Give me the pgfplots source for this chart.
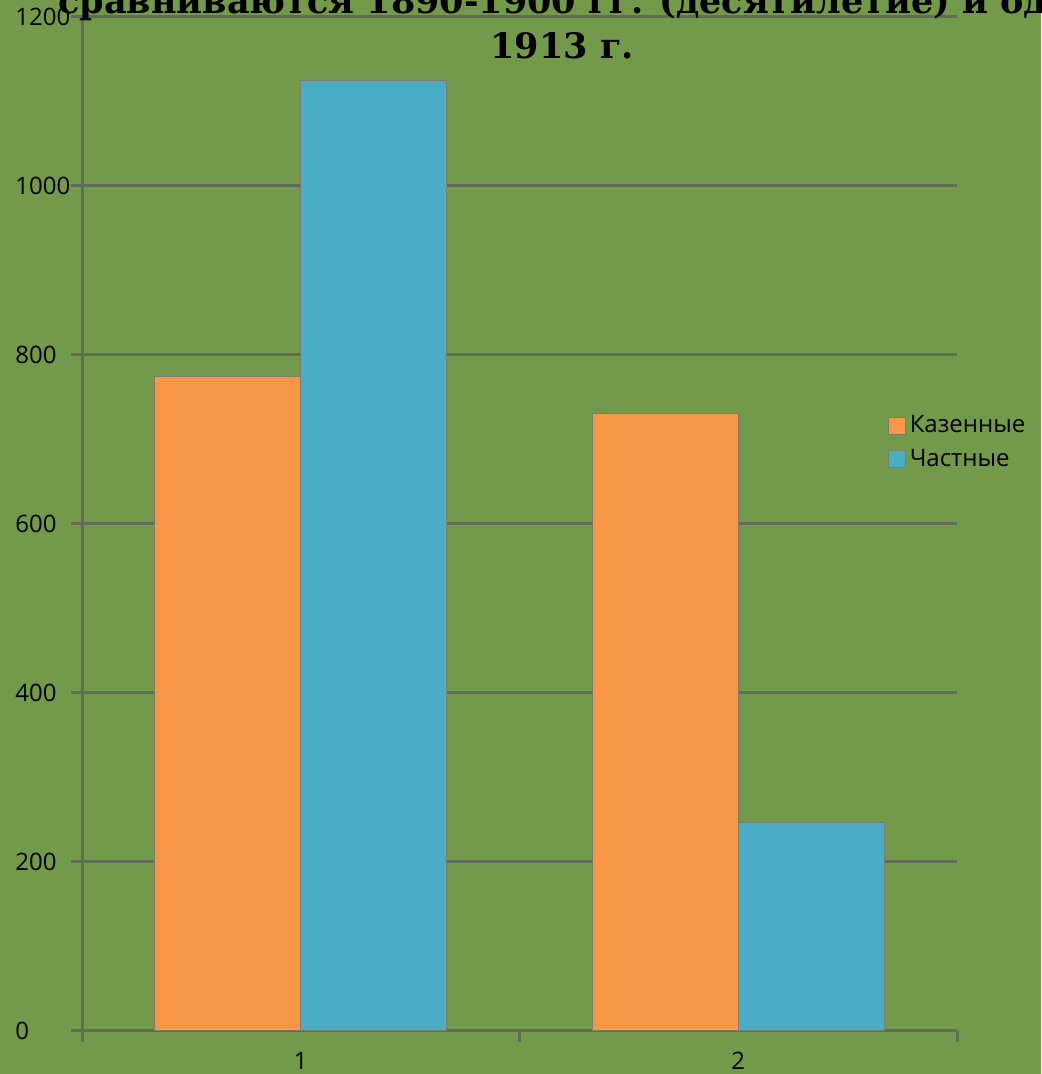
\documentclass[border=0pt]{standalone}
\usepackage{pgfplots}
\pgfplotsset{compat=1.18}
\usepackage{fontspec}
\setmainfont{Open Sans}
\newfontfamily\titlefont{DejaVu Serif}
\definecolor{bg}{RGB}{115,153,74}
\definecolor{gridc}{RGB}{96,108,88}
\definecolor{kaz}{RGB}{247,150,70}
\definecolor{chas}{RGB}{75,172,198}
\definecolor{barborder}{RGB}{125,125,110}
\pgfplotsset{
  sqlegend/.style={legend image code/.code={\draw[##1, draw=barborder, line width=0.5pt] (0pt,-4.25pt) rectangle (8.5pt,4.25pt);}}
}
\begin{document}
\begin{tikzpicture}
\useasboundingbox (0,0) rectangle (520.5pt,537pt);
\clip (0,0) rectangle (520.5pt,537pt);
\fill[bg] (0,0) rectangle (520.5pt,537pt);
\begin{axis}[
  at={(41pt,21.5pt)}, anchor=south west,
  scale only axis, width=437.5pt, height=507pt,
  xmin=0.5, xmax=2.5, ymin=0, ymax=1200,
  axis lines*=left,
  axis line style={draw=gridc, line width=1.5pt},
  ytick={0,200,...,1200},
  ymajorgrids, grid style={draw=gridc, line width=1.5pt},
  tick align=outside, major tick length=5.5pt,
  tick style={draw=gridc, line width=1.5pt},
  xtick={0.5,1.5,2.5}, xticklabels={},
  extra x ticks={1,2}, extra x tick labels={1,2},
  extra x tick style={major tick length=0pt},
  /pgf/number format/assume math mode=true,
  /pgf/number format/1000 sep={},
  tick label style={font=\fontsize{12}{14}\selectfont, text=black},
  xticklabel style={yshift=-7pt},
  yticklabel style={anchor=west, inner sep=0pt, xshift=-28pt},
  legend style={at={(0.921,0.5804)}, anchor=west, draw=none, fill=none,
    inner sep=0pt, font=\fontsize{12}{14}\selectfont, row sep=3pt,
    nodes={inner sep=1.75pt}},
  legend cell align=left,
]
\addplot[ybar, bar width=73pt, bar shift=-36.5pt, fill=kaz, draw=barborder, line width=0.5pt, sqlegend] coordinates {(1,774) (2,731)};
\addplot[ybar, bar width=73pt, bar shift=36.5pt, fill=chas, draw=barborder, line width=0.5pt, sqlegend] coordinates {(1,1125) (2,247)};
\legend{Казенные, Частные}
\end{axis}
\node[anchor=base west, inner sep=0pt, font=\titlefont\bfseries\fontsize{17.5}{21}\selectfont] at (29pt,530pt) {сравниваются 1890-1900 гг. (десятилетие) и один};
\node[anchor=base, inner sep=0pt, font=\titlefont\bfseries\fontsize{17.5}{21}\selectfont] at (281pt,507.5pt) {1913 г.};
\end{tikzpicture}
\end{document}
